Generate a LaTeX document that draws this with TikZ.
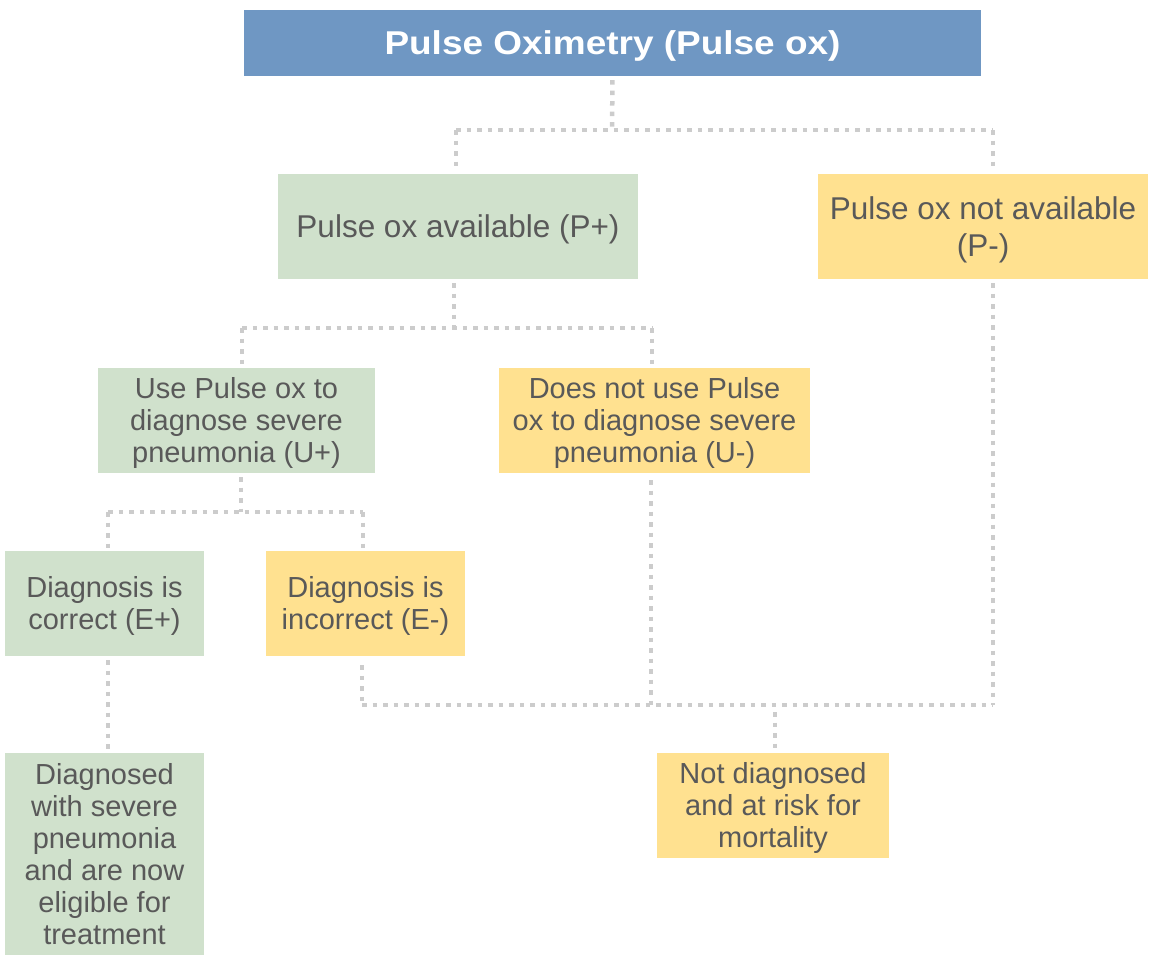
\documentclass[tikz,border=0pt]{standalone}
\usepackage{fontspec}
\setmainfont{Liberation Sans}
\newfontfamily\headfont{Liberation Sans}[FakeStretch=1.12]
\usepackage{tikz}
\usetikzlibrary{positioning}
\definecolor{headblue}{HTML}{6F97C3}
\definecolor{yesgreen}{HTML}{D0E1CC}
\definecolor{noyellow}{HTML}{FFE190}
\definecolor{txtgray}{HTML}{595959}
\definecolor{linkgray}{HTML}{CCCCCC}
\tikzset{>=stealth}
% centred lines, set a little low in the box
\newcommand{\boxlines}[1]{\raisebox{-4pt}[\height][\depth]{\begin{tabular}{@{}c@{}}#1\end{tabular}}}

\begin{document}
\begin{tikzpicture}[x=1pt,y=-1pt,
    box/.style={inner sep=0pt,text=txtgray,font=\fontsize{29}{32}\selectfont},
    yes/.style={box,fill=yesgreen},
    no/.style={box,fill=noyellow},
    big/.style={font=\fontsize{31.5}{37}\selectfont},
    head/.style={box,fill=headblue,text=white,font=\headfont\fontsize{33}{38}\selectfont\bfseries},
    link/.style={draw=linkgray,line width=4.5pt,dash pattern=on 4.5pt off 6pt}]
        \useasboundingbox (0,0) rectangle (1150,956);
        % boxes
        \node (title) at (612.5,43)[head,minimum width=737,minimum height=66]{\boxlines{Pulse Oximetry (Pulse ox)}};
        \node (pplus) at (458,226.5)[yes,big,minimum width=360,minimum height=105]{\boxlines{Pulse ox available (P+)}};
        \node (pminus) at (983,226.5)[no,big,minimum width=330,minimum height=105]{\boxlines{Pulse ox not available\\(P-)}};
        \node (uplus) at (236.5,420.5)[yes,minimum width=277,minimum height=105]{\boxlines{Use Pulse ox to\\diagnose severe\\pneumonia (U+)}};
        \node (uminus) at (654.5,420.5)[no,minimum width=311,minimum height=105]{\boxlines{Does not use Pulse\\ox to diagnose severe\\pneumonia (U-)}};
        \node (eplus) at (104.5,603.5)[yes,minimum width=199,minimum height=105]{\boxlines{Diagnosis is\\correct (E+)}};
        \node (eminus) at (365.5,603.5)[no,minimum width=199,minimum height=105]{\boxlines{Diagnosis is\\incorrect (E-)}};
        \node (treat) at (104.5,854)[yes,minimum width=199,minimum height=202]{\boxlines{Diagnosed\\with severe\\pneumonia\\and are now\\eligible for\\treatment}};
        \node (risk) at (773,805.5)[no,minimum width=232,minimum height=105]{\boxlines{Not diagnosed\\and at risk for\\mortality}};

        % junctions
        \coordinate (ptop) at (612,130);
        \coordinate (pl) at (456,130);
        \coordinate (pr) at (993,130);
        \coordinate (ul) at (242,328);
        \coordinate (ur) at (652,328);
        \coordinate (el) at (108,512);
        \coordinate (er) at (363,512);
        \coordinate (ml) at (362,705);
        \coordinate (mr) at (993,705);
        \coordinate (mdown) at (775,705);

        % connectors
        \draw [link,shorten <=4pt] (title.south) -- (ptop);
        \draw [link] (pl) -- (pr);
        \draw [link,shorten >=4pt] (pl) -- (pl |- pplus.north);
        \draw [link,shorten >=4pt] (pr) -- (pr |- pminus.north);
        \draw [link,shorten <=4pt] (pplus.south -| 454,0) -- (454,328);
        \draw [link] (ul) -- (ur);
        \draw [link,shorten >=3pt] (ul) -- (ul |- uplus.north);
        \draw [link,shorten >=3pt] (ur) -- (ur |- uminus.north);
        \draw [link,shorten <=4pt] (uplus.south -| 241,0) -- (241,512);
        \draw [link] (el) -- (er);
        \draw [link,shorten >=3pt] (el) -- (el |- eplus.north);
        \draw [link,shorten >=3pt] (er) -- (er |- eminus.north);
        \draw [link,shorten <=4pt,shorten >=3pt] (eplus.south -| 108,0) -- (treat.north -| 108,0);
        \draw [link,shorten <=9pt] (eminus.south -| ml) -- (ml);
        \draw [link,shorten <=7pt] (uminus.south -| 651,0) -- (651,705);
        \draw [link,shorten <=4pt] (pminus.south -| mr) -- (mr);
        \draw [link] (ml) -- (mr);
        \draw [link,shorten <=7pt,shorten >=3pt] (mdown) -- (risk.north -| mdown);
\end{tikzpicture}
\end{document}
